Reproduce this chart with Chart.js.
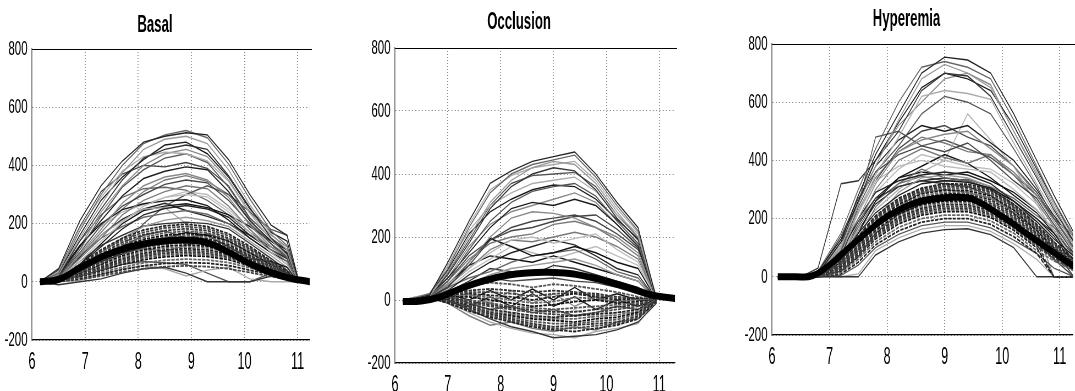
<!DOCTYPE html>
<html>
<head>
<meta charset="utf-8">
<script src="https://cdn.jsdelivr.net/npm/chart.js@4"></script>
<style>
html, body { margin: 0; padding: 0; background: #fff; overflow: hidden; }
body { position: relative; width: 1075px; height: 391px; }
.panel { position: absolute; top: 0; height: 391px; overflow: hidden; }
.panel canvas { display: block; transform-origin: 0 0; }
</style>
</head>
<body>
<div class="panel" id="wrap1"><canvas id="basal"></canvas></div>
<div class="panel" id="wrap2"><canvas id="occlusion"></canvas></div>
<div class="panel" id="wrap3"><canvas id="hyperemia"></canvas></div>
<script>
// ---- Basal ----
const basalX = [6.15, 6.5, 6.9, 7.3, 7.7, 8.1, 8.5, 8.9, 9.3, 9.7, 10.1, 10.5, 10.8, 11.0];
const basalUpper = [
    [0, 45, 210, 330, 415, 480, 500, 512, 505, 420, 300, 195, 160, 15],
    [0, 30, 175, 300, 400, 475, 505, 520, 495, 405, 285, 175, 125, 5],
    [5, 25, 150, 265, 375, 455, 490, 500, 475, 385, 265, 165, 110, 0],
    [0, 20, 140, 250, 350, 425, 455, 470, 455, 365, 255, 150, 95, 0],
    [0, 35, 185, 290, 380, 430, 445, 440, 415, 345, 235, 145, 90, 0],
    [0, 15, 110, 225, 325, 385, 425, 440, 410, 325, 215, 130, 85, 0],
    [0, 20, 120, 210, 295, 355, 380, 395, 385, 310, 210, 140, 100, 10],
    [0, 10, 95, 180, 270, 330, 360, 372, 350, 290, 195, 120, 90, 0],
    [0, 18, 100, 195, 260, 300, 335, 350, 340, 280, 200, 130, 80, 0],
    [0, 12, 80, 150, 230, 280, 310, 330, 320, 260, 180, 110, 70, 0],
    [0, 10, 70, 140, 205, 260, 290, 300, 292, 240, 170, 100, 60, 0],
    [0, 25, 125, 200, 248, 268, 278, 282, 262, 212, 150, 100, 70, 0],
    [0, 8, 60, 120, 182, 230, 252, 262, 250, 222, 160, 110, 80, 5],
    [0, 15, 90, 150, 190, 222, 235, 245, 232, 200, 150, 100, 60, 0],
    [0, 5, 50, 100, 150, 190, 212, 222, 210, 190, 140, 90, 50, 0],
    [0, 10, 70, 125, 160, 192, 200, 205, 200, 182, 132, 80, 40, 0],
    [0, 20, 90, 160, 210, 250, 255, 200, 130, 90, 60, 40, 20, 0],
    [0, 5, 30, 80, 120, 200, 260, 300, 330, 300, 240, 180, 160, 20],
    [0, 30, 160, 280, 360, 420, 470, 480, 440, 360, 250, 170, 140, 10],
    [0, 15, 120, 240, 330, 400, 440, 455, 430, 350, 240, 160, 120, 0],
    [0, 40, 190, 310, 370, 400, 395, 410, 390, 330, 220, 150, 110, 0],
    [0, 10, 90, 170, 250, 310, 350, 365, 345, 300, 210, 130, 90, 0],
    [0, 20, 110, 190, 240, 265, 290, 310, 300, 250, 180, 120, 85, 0],
    [0, 5, 60, 130, 200, 245, 260, 268, 255, 230, 190, 140, 110, 0],
    [0, 12, 85, 160, 215, 250, 270, 245, 225, 200, 160, 120, 90, 0],
    [0, 25, 140, 230, 290, 320, 325, 315, 280, 230, 170, 120, 80, 0]
];
const basalLower = [
    [0, -10, 0, 10, 30, 45, 50, 30, 0, 0, 0, 20, 10, 0],
    [0, 0, 5, 25, 45, 55, 45, 20, 40, 50, 10, 0, 0, 0],
    [0, 5, 20, 40, 60, 70, 65, 60, 30, 0, 0, 30, 40, 0],
    [0, 8, 40, 70, 95, 120, 150, 170, 160, 120, 80, 70, 50, 0],
    [0, 3, 25, 60, 100, 115, 105, 125, 140, 110, 60, 40, 20, 0],
    [0, 6, 35, 80, 120, 160, 175, 150, 165, 140, 100, 60, 30, 0]
];
const basalDense = [
    [0, 10, 60, 110, 150, 178, 192, 198, 190, 165, 122, 72, 36, 0],
    [0, 9, 56, 104, 143, 170, 185, 190, 183, 158, 116, 69, 33, 0],
    [0, 8, 52, 96, 136, 162, 176, 182, 176, 150, 112, 66, 30, 0],
    [0, 7, 49, 91, 129, 153, 168, 174, 168, 145, 106, 63, 29, 0],
    [0, 6, 46, 86, 122, 146, 160, 166, 160, 140, 100, 60, 28, 0],
    [0, 5, 43, 81, 116, 140, 154, 160, 154, 134, 96, 57, 26, 0],
    [0, 5, 40, 76, 110, 133, 148, 153, 148, 128, 92, 55, 25, 0],
    [0, 4, 38, 72, 105, 127, 142, 146, 141, 123, 89, 52, 23, 0],
    [0, 5, 36, 68, 100, 122, 136, 140, 135, 118, 86, 50, 22, 0],
    [0, 4, 33, 64, 95, 116, 129, 134, 129, 112, 82, 48, 21, 0],
    [0, 4, 30, 60, 90, 110, 122, 127, 122, 106, 78, 45, 20, 0],
    [0, 3, 28, 56, 85, 104, 116, 120, 116, 101, 74, 42, 19, 0],
    [0, 3, 26, 52, 80, 98, 110, 114, 110, 96, 70, 40, 18, 0],
    [0, 3, 24, 48, 75, 93, 104, 108, 104, 91, 66, 38, 17, 0],
    [0, 3, 22, 45, 70, 88, 98, 102, 98, 86, 62, 36, 16, 0],
    [0, 2, 20, 42, 65, 82, 92, 96, 92, 81, 58, 34, 15, 0],
    [0, 2, 18, 38, 60, 76, 86, 90, 87, 76, 55, 32, 14, 0],
    [0, 2, 15, 32, 50, 65, 74, 78, 75, 66, 48, 28, 12, 0],
    [0, 1, 12, 26, 42, 55, 63, 66, 64, 56, 40, 24, 10, 0],
    [0, 1, 8, 20, 34, 45, 52, 55, 52, 45, 32, 18, 8, 0]
];
const basalMeanX = [6.15, 6.5, 6.9, 7.3, 7.7, 8.1, 8.5, 8.9, 9.3, 9.7, 10.1, 10.5, 10.8, 11.23];
const basalMean = [0, 8, 48, 85, 112, 130, 140, 143, 134, 102, 62, 32, 15, 0];

// ---- Occlusion ----
const occX = [6.15, 6.65, 7.0, 7.4, 7.8, 8.2, 8.6, 9.0, 9.4, 9.8, 10.2, 10.6, 10.95];
const occUpper = [
    [-10, 15, 120, 250, 370, 410, 440, 455, 470, 400, 310, 230, 0],
    [-5, 20, 100, 230, 340, 400, 430, 445, 460, 390, 300, 220, 5],
    [0, 10, 90, 200, 310, 380, 420, 440, 430, 370, 280, 200, 0],
    [-8, 12, 80, 180, 290, 360, 400, 420, 410, 350, 260, 190, 0],
    [0, 20, 110, 220, 300, 340, 370, 380, 390, 345, 270, 210, 10],
    [-5, 8, 60, 160, 250, 310, 345, 360, 370, 330, 250, 180, 0],
    [0, 15, 70, 150, 230, 290, 310, 300, 320, 300, 240, 170, 0],
    [-10, 10, 50, 120, 200, 260, 280, 275, 260, 230, 200, 150, 0],
    [0, 5, 40, 110, 190, 230, 250, 260, 270, 250, 210, 160, 5],
    [-5, 10, 60, 130, 180, 200, 210, 240, 250, 230, 190, 140, 0],
    [0, 12, 50, 100, 150, 190, 200, 180, 195, 210, 160, 120, 0],
    [0, 8, 40, 120, 195, 170, 140, 150, 170, 150, 120, 100, 0],
    [-5, 5, 30, 80, 120, 150, 170, 190, 175, 140, 100, 80, 0],
    [0, 10, 40, 70, 90, 120, 140, 150, 160, 130, 90, 70, 0],
    [0, 5, 20, 50, 80, 100, 110, 120, 130, 110, 80, 60, 0],
    [-5, 10, 25, 60, 100, 90, 80, 110, 100, 80, 60, 40, 0],
    [0, 15, 110, 240, 350, 395, 420, 430, 440, 380, 290, 215, 0],
    [-5, 10, 85, 190, 300, 370, 395, 400, 405, 360, 270, 200, 0],
    [0, 18, 95, 210, 280, 320, 350, 365, 360, 320, 255, 195, 5],
    [-8, 8, 70, 170, 240, 280, 300, 320, 340, 310, 240, 175, 0],
    [0, 12, 60, 140, 190, 220, 230, 250, 265, 270, 225, 165, 0],
    [-5, 10, 45, 100, 160, 190, 185, 200, 215, 200, 170, 130, 0],
    [0, 6, 35, 90, 130, 170, 150, 130, 150, 170, 140, 110, 0],
    [0, 10, 50, 110, 140, 130, 120, 140, 120, 100, 80, 60, 0]
];
const occLower = [
    [0, 10, 0, -30, -60, -85, -100, -120, -115, -110, -95, -70, -10],
    [-5, 5, -5, -40, -70, -90, -105, -110, -120, -100, -90, -75, 0],
    [-5, 8, 15, -10, -30, -20, -40, -30, -50, -40, -20, -30, 0],
    [0, 5, -5, -20, 10, -20, 20, -20, 10, -30, 0, -20, 0],
    [0, 10, 5, 20, -10, 30, -10, 20, -20, 10, -10, 5, 0],
    [0, 5, 30, 50, 70, 60, 65, 70, 60, 55, 40, 20, 0],
    [0, 5, -10, -50, -80, -70, -90, -100, -85, -95, -70, -60, 0],
    [0, 8, 10, -20, -5, -45, -20, -60, -30, -60, -40, -40, 0],
    [-5, 5, 20, 0, 30, 0, 35, 0, 40, 0, 20, 0, 0]
];
const occDense = [
    [0, 10, -10, -35, -55, -70, -85, -95, -100, -90, -80, -60, -5],
    [0, 6, -8, -30, -50, -65, -80, -90, -90, -82, -75, -55, -2],
    [0, 8, -5, -25, -45, -60, -75, -85, -80, -75, -70, -50, 0],
    [-5, 8, -3, -22, -42, -55, -68, -75, -75, -68, -62, -45, 0],
    [-5, 5, 0, -20, -40, -50, -60, -65, -70, -60, -55, -40, 0],
    [0, 5, 2, -18, -35, -45, -55, -60, -60, -52, -48, -35, 3],
    [0, 10, 5, -15, -30, -40, -50, -55, -50, -45, -40, -30, 5],
    [0, 5, 0, -10, -20, -30, -40, -45, -50, -40, -30, -20, 0],
    [0, 10, 8, -5, -15, -25, -32, -38, -38, -30, -22, -15, 0],
    [-5, 10, 10, 0, -10, -20, -25, -30, -25, -20, -15, -10, 0],
    [0, 5, 10, 10, 0, -10, -20, -15, -5, 0, -10, -5, 0],
    [0, 5, 12, 15, 8, 0, -10, -5, 8, 5, -5, 0, 0],
    [0, 10, 15, 20, 15, 10, 0, 10, 20, 10, 0, 5, 0],
    [-5, 8, 18, 25, 25, 20, 12, 20, 22, 15, 5, 5, 0],
    [-5, 5, 20, 30, 35, 30, 25, 30, 25, 20, 10, 5, 0],
    [0, 10, 25, 45, 55, 50, 40, 50, 45, 35, 25, 10, 0]
];
const occMeanX = [6.15, 6.5, 6.9, 7.3, 7.7, 8.1, 8.5, 8.9, 9.3, 9.7, 10.1, 10.5, 10.9, 11.3];
const occMean = [-5, -3, 12, 40, 62, 78, 86, 88, 84, 72, 55, 35, 14, 5];

// ---- Hyperemia ----
const hypX = [6.1, 6.5, 6.8, 7.2, 7.5, 7.8, 8.2, 8.6, 9.0, 9.4, 9.8, 10.2, 10.6, 10.9, 11.25];
const hypUpper = [
    [0, 0, 10, 120, 280, 420, 560, 700, 755, 745, 700, 560, 400, 280, 150],
    [0, -5, 20, 150, 300, 440, 600, 720, 740, 720, 680, 540, 380, 260, 140],
    [0, 0, 15, 100, 250, 380, 540, 680, 730, 700, 650, 500, 360, 250, 130],
    [-5, 0, 30, 320, 330, 400, 500, 640, 700, 690, 620, 480, 340, 230, 120],
    [0, -5, 10, 80, 220, 350, 480, 620, 640, 630, 610, 460, 320, 220, 110],
    [0, 0, 5, 90, 240, 360, 450, 560, 620, 600, 560, 440, 310, 200, 100],
    [0, 0, 20, 130, 260, 380, 470, 520, 500, 520, 460, 400, 300, 210, 120],
    [0, -5, 10, 100, 200, 320, 430, 470, 490, 500, 440, 380, 280, 190, 90],
    [0, 0, 15, 140, 270, 360, 420, 450, 430, 460, 400, 330, 270, 180, 80],
    [0, 0, 5, 60, 180, 300, 400, 440, 410, 390, 420, 350, 260, 170, 70],
    [0, -5, 10, 110, 220, 330, 380, 400, 380, 370, 360, 300, 230, 160, 60],
    [0, 0, 0, 50, 150, 260, 340, 380, 420, 390, 340, 280, 220, 150, 50],
    [0, 0, 10, 80, 200, 290, 330, 350, 360, 350, 320, 260, 200, 140, 40],
    [0, 0, 5, 40, 130, 240, 320, 370, 340, 330, 300, 250, 190, 120, 30],
    [0, -5, 0, 30, 100, 200, 290, 340, 350, 340, 310, 240, 180, 100, 20],
    [0, 0, 10, 90, 190, 270, 310, 330, 320, 310, 280, 220, 160, 90, 0],
    [0, 0, 5, 70, 160, 230, 300, 360, 400, 560, 470, 380, 250, 150, 60],
    [0, -5, 10, 120, 250, 480, 500, 450, 470, 440, 410, 350, 280, 200, 140],
    [0, 0, 10, 110, 260, 400, 530, 650, 700, 680, 640, 520, 370, 260, 130],
    [0, -5, 15, 130, 280, 400, 520, 600, 680, 700, 660, 500, 350, 240, 120],
    [0, 0, 5, 90, 220, 330, 440, 500, 520, 480, 450, 380, 290, 200, 100],
    [0, 0, 10, 100, 230, 340, 430, 480, 460, 430, 420, 360, 280, 200, 110],
    [0, 0, 5, 70, 190, 290, 370, 420, 400, 380, 370, 320, 250, 180, 90],
    [0, -5, 10, 80, 180, 270, 340, 360, 350, 360, 330, 290, 230, 160, 70],
    [0, 0, 5, 60, 160, 250, 310, 330, 340, 330, 300, 260, 200, 150, 80],
    [0, 0, 10, 70, 170, 260, 320, 345, 330, 335, 310, 270, 210, 170, 100]
];
const hypLower = [
    [0, 0, 0, 0, 0, 75, 120, 150, 162, 165, 145, 100, 0, 0, 0],
    [0, 0, 0, 0, 10, 90, 134, 164, 176, 176, 156, 114, 60, 0, 0],
    [0, 0, 0, 5, 40, 100, 146, 176, 188, 188, 168, 126, 80, 30, 0],
    [0, 0, 3, 60, 150, 220, 280, 320, 330, 325, 305, 260, 190, 130, 70],
    [0, 0, 2, 30, 110, 190, 240, 290, 300, 290, 270, 230, 160, 0, 0],
    [0, -5, 0, 20, 70, 150, 215, 250, 275, 270, 235, 190, 120, 60, 0]
];
const hypDense = [
    [0, 0, 5, 60, 140, 210, 270, 305, 320, 318, 300, 250, 180, 120, 60],
    [0, 0, 4, 58, 135, 205, 265, 300, 315, 313, 295, 245, 175, 115, 58],
    [0, 0, 5, 55, 130, 200, 260, 295, 310, 308, 290, 240, 170, 110, 55],
    [0, 0, 4, 52, 125, 195, 255, 290, 304, 302, 284, 235, 165, 105, 52],
    [0, 0, 3, 50, 120, 190, 250, 285, 298, 296, 278, 230, 160, 100, 50],
    [0, 0, 3, 47, 115, 185, 245, 278, 291, 290, 271, 224, 155, 98, 48],
    [0, 0, 3, 45, 110, 180, 240, 272, 285, 284, 265, 218, 150, 95, 45],
    [0, 0, 2, 42, 105, 175, 234, 266, 278, 278, 258, 212, 145, 90, 42],
    [0, 0, 2, 40, 100, 170, 228, 260, 272, 272, 252, 206, 140, 88, 40],
    [0, 0, 2, 38, 96, 165, 222, 254, 266, 266, 246, 200, 135, 84, 38],
    [0, 0, 2, 35, 92, 160, 216, 248, 260, 260, 240, 195, 130, 80, 35],
    [0, 0, 1, 32, 88, 155, 210, 242, 254, 254, 234, 190, 125, 76, 32],
    [0, 0, 0, 30, 85, 150, 205, 236, 248, 248, 228, 184, 120, 72, 30],
    [0, 0, 0, 28, 80, 145, 200, 230, 242, 242, 222, 178, 115, 0, 0],
    [0, 0, 0, 25, 76, 140, 194, 224, 236, 236, 216, 172, 110, 65, 25],
    [0, 0, 0, 22, 72, 135, 188, 218, 230, 230, 210, 166, 105, 60, 22],
    [0, 0, 0, 20, 68, 130, 182, 212, 224, 224, 204, 160, 100, 0, 0],
    [0, 0, 0, 15, 60, 120, 170, 200, 212, 212, 192, 150, 90, 55, 20],
    [0, 0, 0, 10, 50, 110, 158, 188, 200, 200, 180, 138, 80, 0, 0]
];
const hypMeanX = [6.1, 6.4, 6.7, 7.0, 7.25, 7.5, 7.75, 8.0, 8.5, 9.0, 9.25, 9.5, 10.0, 10.5, 11.0, 11.25];
const hypMean = [0, 0, 3, 41, 85, 128, 170, 207, 255, 272, 273, 266, 207, 138, 69, 35];

const yTicks = [-200, 0, 200, 400, 600, 800];

// the figure is squeezed horizontally, so every canvas is drawn wide and scaled down
const SQUEEZE = 0.55;
const AXIS_W = 32;
const FONT = "'Liberation Sans', Arial, sans-serif";

const thinGreys = ['#222', '#666', '#999', '#333', '#aaa', '#555', '#1a1a1a', '#888', '#444', '#777', '#bbb', '#111'];
const denseGreys = ['#222', '#444', '#333', '#555', '#111', '#666'];

const toPoints = (xs, ys) => ys.map((y, i) => ({x: xs[i], y: y}));

// black line along the top of the plot box
const topLine = {
    id: 'topLine',
    afterDraw(chart) {
        const {ctx, chartArea} = chart;
        ctx.save();
        ctx.strokeStyle = '#000';
        ctx.lineWidth = 1.2;
        ctx.beginPath();
        ctx.moveTo(chartArea.left, chartArea.top + 0.5);
        ctx.lineTo(chart.width, chartArea.top + 0.5);
        ctx.stroke();
        ctx.restore();
    }
};

const makePanel = (canvasId, wrapId, box, title, xMax, xs, upper, lower, dense, meanX, meanY) => {
    const wrapLeft = box.left - AXIS_W;
    const wrapW = box.right + 2 - wrapLeft;
    const wrap = document.getElementById(wrapId);
    wrap.style.left = wrapLeft + 'px';
    wrap.style.width = wrapW + 'px';

    const canvas = document.getElementById(canvasId);
    canvas.width = Math.round(wrapW / SQUEEZE);
    canvas.height = 391;
    canvas.style.transform = 'scaleX(' + SQUEEZE + ')';

    const datasets = [];
    datasets.push({
        data: toPoints(meanX, meanY),
        borderColor: '#000',
        borderWidth: 7,
        tension: 0.4,
        order: 0
    });
    dense.forEach((ys, i) => {
        datasets.push({
            data: toPoints(xs, ys),
            borderColor: denseGreys[i % denseGreys.length],
            borderWidth: 1.8,
            borderDash: [6, 2],
            order: 1
        });
    });
    lower.forEach((ys, i) => {
        datasets.push({
            data: toPoints(xs, ys),
            borderColor: thinGreys[(i + 3) % thinGreys.length],
            borderWidth: 1.4,
            order: 2
        });
    });
    upper.forEach((ys, i) => {
        datasets.push({
            data: toPoints(xs, ys),
            borderColor: thinGreys[i % thinGreys.length],
            borderWidth: 1.4,
            order: 3
        });
    });

    const titleSize = 24;
    const titleTop = box.titleY - titleSize * 0.6;

    return new Chart(canvas.getContext('2d'), {
        type: 'line',
        data: {datasets: datasets},
        options: {
            responsive: false,
            animation: false,
            events: [],
            elements: {point: {radius: 0}},
            layout: {padding: {left: 0, right: 2 / SQUEEZE, top: 0, bottom: 0}},
            plugins: {
                legend: {display: false},
                tooltip: {enabled: false},
                title: {
                    display: true,
                    text: title,
                    color: '#000',
                    font: {family: FONT, size: titleSize, weight: 'bold'},
                    padding: {top: titleTop, bottom: box.top - titleTop - titleSize * 1.2}
                }
            },
            scales: {
                x: {
                    type: 'linear',
                    min: 6,
                    max: xMax,
                    afterFit: (scale) => { scale.height = 391 - box.bottom; },
                    ticks: {
                        stepSize: 1,
                        includeBounds: false,
                        color: '#000',
                        padding: 9,
                        font: {family: FONT, size: 23}
                    },
                    grid: {color: '#8a8a8a', lineWidth: 1.8, drawTicks: false},
                    border: {color: '#000', width: 1.2, dash: [1, 2]}
                },
                y: {
                    min: -200,
                    max: 800,
                    afterFit: (scale) => { scale.width = AXIS_W / SQUEEZE; },
                    afterBuildTicks: (scale) => { scale.ticks = yTicks.map((v) => ({value: v})); },
                    ticks: {
                        color: '#000',
                        padding: 8,
                        font: {family: FONT, size: 21}
                    },
                    grid: {color: '#8a8a8a', lineWidth: 1, drawTicks: false},
                    border: {color: '#777', width: 1.8, dash: [2, 4]}
                }
            }
        },
        plugins: [topLine]
    });
};

makePanel('basal', 'wrap1', {left: 32, right: 310, top: 49, bottom: 340, titleY: 25},
    'Basal', 11.23, basalX, basalUpper, basalLower, basalDense, basalMeanX, basalMean);
makePanel('occlusion', 'wrap2', {left: 395, right: 675, top: 48, bottom: 363, titleY: 22},
    'Occlusion', 11.3, occX, occUpper, occLower, occDense, occMeanX, occMean);
makePanel('hyperemia', 'wrap3', {left: 772, right: 1073, top: 44, bottom: 335, titleY: 19},
    'Hyperemia', 11.23, hypX, hypUpper, hypLower, hypDense, hypMeanX, hypMean);
</script>
</body>
</html>
